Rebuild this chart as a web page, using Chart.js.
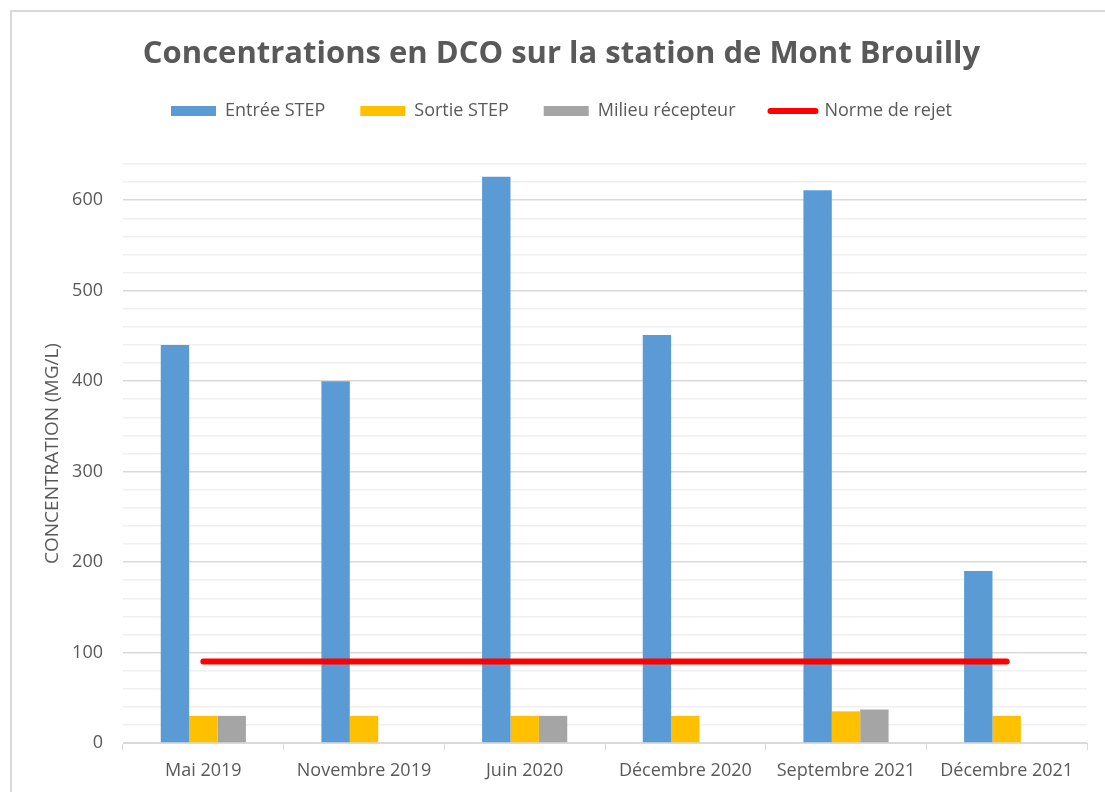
<!DOCTYPE html>
<html>
<head>
<meta charset="utf-8">
<script src="https://cdn.jsdelivr.net/npm/chart.js@4/dist/chart.umd.min.js"></script>
<style>
  html, body { margin: 0; padding: 0; background: #ffffff; overflow: hidden; }
  #wrap { position: absolute; left: 0; top: 0; width: 1105px; height: 792px; }
  #frame { position: absolute; left: 10px; top: 10px; width: 1200px; height: 900px; border: 2px solid #d9d9d9; box-sizing: border-box; pointer-events: none; }
</style>
</head>
<body>
<div id="wrap">
  <canvas id="c" width="1105" height="792"></canvas>
</div>
<div id="frame"></div>
<script>
const categories = ["Mai 2019", "Novembre 2019", "Juin 2020", "Décembre 2020", "Septembre 2021", "Décembre 2021"];
const entreeStep = [440, 400, 626, 451, 611, 190];
const sortieStep = [30, 30, 30, 30, 35, 30];
const milieuRecepteur = [30, null, 30, null, 37, null];
const normeRejet = [90, 90, 90, 90, 90, 90];
const seriesNames = ["Entrée STEP", "Sortie STEP", "Milieu récepteur", "Norme de rejet"];
const yMin = 0, yMax = 640, yStep = 20, yMajor = 100;

const FONT = "'Open Sans', Lato, sans-serif";
const TXT = "#595959";

const legendSpacer = {
  id: "legendSpacer",
  beforeInit(chart) {
    const lg = chart.legend;
    if (lg && !lg._patched) {
      const orig = lg.fit;
      lg.fit = function () { orig.call(this); this.height += 34; };
      lg._patched = true;
    }
  }
};

new Chart(document.getElementById("c"), {
  data: {
    labels: categories,
    datasets: [
      { type: "bar", label: seriesNames[0], data: entreeStep, backgroundColor: "#5B9BD5", order: 1,
        categoryPercentage: 0.53, barPercentage: 1.0 },
      { type: "bar", label: seriesNames[1], data: sortieStep, backgroundColor: "#FFC000", order: 1,
        categoryPercentage: 0.53, barPercentage: 1.0 },
      { type: "bar", label: seriesNames[2], data: milieuRecepteur, backgroundColor: "#A5A5A5", order: 1,
        categoryPercentage: 0.53, barPercentage: 1.0 },
      { type: "line", label: seriesNames[3], data: normeRejet, borderColor: "#FF0000", backgroundColor: "#FF0000",
        borderWidth: 6, borderCapStyle: "round", pointRadius: 0, pointHoverRadius: 0, order: 0, tension: 0 }
    ]
  },
  plugins: [legendSpacer],
  options: {
    responsive: false,
    animation: false,
    layout: { padding: { left: 36, right: 18, top: 0, bottom: 0 } },
    plugins: {
      tooltip: { enabled: false },
      title: {
        display: true,
        text: "Concentrations en DCO sur la station de Mont Brouilly",
        color: TXT,
        font: { family: FONT, size: 31, weight: "bold", lineHeight: 1.0 },
        padding: { top: 39, bottom: -3 }
      },
      legend: {
        display: true,
        labels: {
          usePointStyle: true,
          pointStyleWidth: 45,
          boxHeight: 10,
          padding: 35,
          color: TXT,
          font: { family: FONT, size: 18 },
          generateLabels: (chart) => chart.data.datasets.map((ds, i) => ({
            text: ds.label,
            fillStyle: ds.backgroundColor,
            strokeStyle: ds.type === "line" ? ds.borderColor : ds.backgroundColor,
            lineWidth: ds.type === "line" ? 6 : 0,
            lineCap: "round",
            pointStyle: ds.type === "line" ? "line" : "rect",
            fontColor: TXT,
            hidden: false,
            datasetIndex: i
          }))
        }
      }
    },
    scales: {
      x: {
        offset: true,
        grid: { offset: true, drawOnChartArea: false, drawTicks: true, tickLength: 7, color: "#d9d9d9", lineWidth: 1 },
        border: { display: true, color: "#d9d9d9", width: 1 },
        ticks: { color: TXT, font: { family: FONT, size: 18 }, padding: 10, maxRotation: 0, autoSkip: false },
        afterFit: (s) => { s.height = 49; }
      },
      y: {
        min: yMin, max: yMax,
        ticks: {
          stepSize: yStep,
          autoSkip: false,
          color: TXT,
          font: { family: FONT, size: 18 },
          padding: 20,
          callback: (v) => (v % yMajor === 0 ? String(v) : "")
        },
        grid: {
          drawTicks: false,
          color: (ctx) => (ctx.tick && ctx.tick.value % yMajor === 0 ? "#d9d9d9" : "#f0f0f0"),
          lineWidth: 1.5
        },
        border: { display: false },
        title: {
          display: true,
          text: "CONCENTRATION (MG/L)",
          color: TXT,
          font: { family: FONT, size: 19 },
          padding: { top: 5, bottom: 0 }
        },
        afterFit: (s) => { s.width = 87; }
      }
    }
  }
});
</script>
</body>
</html>
